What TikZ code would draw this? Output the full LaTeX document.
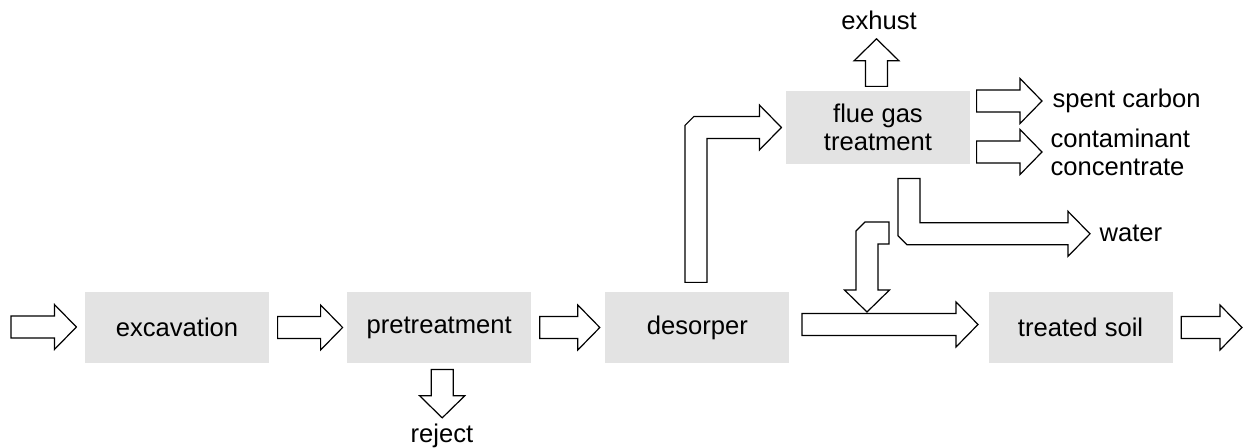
\documentclass[tikz,border=0pt]{standalone}
\usepackage{fontspec}
\setmainfont{Liberation Sans}
\usetikzlibrary{calc,positioning}

\definecolor{boxgray}{RGB}{227,227,227}
\newcommand{\shaftw}{5.5pt} % half width of a fat arrow's shaft
\newcommand{\headw}{11.25pt} % half width of its head
\newcommand{\headl}{11pt} % length of its head
\newcommand{\chamf}{4.5pt} % cut corner of bent arrows

\begin{document}
\begin{tikzpicture}[
    x = 0.5pt, y = -0.5pt, % one unit = one pixel of the sketch
    line width = 0.6pt,
    font = \fontsize{12.8}{14}\selectfont
    ]

    \tikzset{
    box/.style = {fill = boxgray, minimum width = 92pt, minimum height = 35.5pt, inner sep = 0pt, align = center},
    lbl/.style = {inner sep = 1pt, align = left},
    fat/.style = {draw = black, fill = white, line join = miter},
    % straight fat arrows, tip at the target
    fatr/.style = {fat, to path = {let \p1 = (\tikztostart), \p2 = (\tikztotarget) in
        (\x1,\y1+\shaftw) -- (\x2-\headl,\y1+\shaftw) -- (\x2-\headl,\y1+\headw) -- (\x2,\y1)
        -- (\x2-\headl,\y1-\headw) -- (\x2-\headl,\y1-\shaftw) -- (\x1,\y1-\shaftw) -- cycle}},
    fatd/.style = {fat, to path = {let \p1 = (\tikztostart), \p2 = (\tikztotarget) in
        (\x1-\shaftw,\y1) -- (\x1-\shaftw,\y2+\headl) -- (\x1-\headw,\y2+\headl) -- (\x1,\y2)
        -- (\x1+\headw,\y2+\headl) -- (\x1+\shaftw,\y2+\headl) -- (\x1+\shaftw,\y1) -- cycle}},
    fatu/.style = {fat, to path = {let \p1 = (\tikztostart), \p2 = (\tikztotarget) in
        (\x1-\shaftw,\y1) -- (\x1-\shaftw,\y2-\headl) -- (\x1-\headw,\y2-\headl) -- (\x1,\y2)
        -- (\x1+\headw,\y2-\headl) -- (\x1+\shaftw,\y2-\headl) -- (\x1+\shaftw,\y1) -- cycle}},
    % bent fat arrows
    bendur/.style = {fat, to path = {let \p1 = (\tikztostart), \p2 = (\tikztotarget) in
        (\x1-\shaftw,\y1) -- (\x1-\shaftw,\y2+\shaftw-\chamf) -- (\x1-\shaftw+\chamf,\y2+\shaftw)
        -- (\x2-\headl,\y2+\shaftw) -- (\x2-\headl,\y2+\headw) -- (\x2,\y2) -- (\x2-\headl,\y2-\headw)
        -- (\x2-\headl,\y2-\shaftw) -- (\x1+\shaftw,\y2-\shaftw) -- (\x1+\shaftw,\y1) -- cycle}},
    benddr/.style = {fat, to path = {let \p1 = (\tikztostart), \p2 = (\tikztotarget) in
        (\x1+\shaftw,\y1) -- (\x1+\shaftw,\y2+\shaftw) -- (\x2-\headl,\y2+\shaftw) -- (\x2-\headl,\y2+\headw)
        -- (\x2,\y2) -- (\x2-\headl,\y2-\headw) -- (\x2-\headl,\y2-\shaftw) -- (\x1-\shaftw+\chamf,\y2-\shaftw)
        -- (\x1-\shaftw,\y2-\shaftw+\chamf) -- (\x1-\shaftw,\y1) -- cycle}},
    bendld/.style = {fat, to path = {let \p1 = (\tikztostart), \p2 = (\tikztotarget) in
        (\x1,\y1+\shaftw) -- (\x2-\shaftw+\chamf,\y1+\shaftw) -- (\x2-\shaftw,\y1+\shaftw-\chamf)
        -- (\x2-\shaftw,\y2+\headl) -- (\x2-\headw,\y2+\headl) -- (\x2,\y2) -- (\x2+\headw,\y2+\headl)
        -- (\x2+\shaftw,\y2+\headl) -- (\x2+\shaftw,\y1-\shaftw) -- (\x1,\y1-\shaftw) -- cycle}}
    }

    \useasboundingbox (0,0) rectangle (1244,448);

    % process boxes
    \node[box] (exc) at (177,327.5) {excavation};
    \node[box] (pre) [right=38.5pt of exc] {pretreatment};
    \node[box] (des) [right=36.5pt of pre] {desorper};
    \node[box] (soil) [right=99pt of des] {treated soil};
    \node[box, minimum height=36.5pt] (flue) at (878,127.5) {flue gas\\treatment};

    % streams leaving the process
    \node[lbl, anchor=base] (exh) at (879,30) {exhust};
    \node[lbl, anchor=base] (rej) at (442,443) {reject};
    \node[lbl, anchor=base west] (spc) at (1050,108) {spent carbon};
    \node[lbl, anchor=west] (cc) at (1048,152) {contaminant\\concentrate};
    \node[lbl, anchor=base west] (wat) at (1097,242) {water};

    \coordinate (feed) at (11,327);
    \coordinate (out) at (1242,327);
    \coordinate (back) at (889,233);
    \coordinate (mixin) at (867,312);

    % main line
    \draw[fatr] (feed) to ([xshift=-4pt]exc.west);
    \draw[fatr] ([xshift=4pt]exc.east) to ([xshift=-2pt]pre.west);
    \draw[fatr] ([xshift=4pt]pre.east) to ([xshift=-2.5pt]des.west);
    \draw[fatr] ([shift={(6pt,1.5pt)}]des.east) to ([xshift=-5pt]soil.west);
    \draw[fatr] ([xshift=4pt]soil.east) to (out);
    \draw[fatd] ([shift={(1.5pt,-3pt)}]pre.south) to ([yshift=2pt]rej.north);

    % off-gas line
    \draw[bendur] ([shift={(-0.75pt,4.5pt)}]des.north) to ([xshift=-2pt]flue.west);
    \draw[fatu] ([shift={(-0.75pt,2pt)}]flue.north) to ([yshift=-3pt]exh.south);
    \draw[fatr] ([shift={(3pt,13.25pt)}]flue.east) to ([xshift=-4pt]spc.west);
    \draw[fatr] ([shift={(3pt,-12.25pt)}]flue.east) to ([xshift=-3pt]cc.west);
    \draw[benddr] ([shift={(15.5pt,-7pt)}]flue.south) to ([xshift=-3.5pt]wat.west);
    \draw[bendld] (back) to (mixin);
\end{tikzpicture}
\end{document}
